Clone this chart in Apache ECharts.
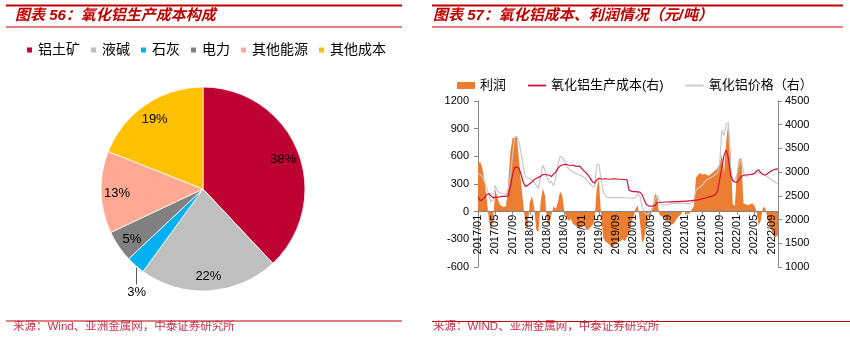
<!DOCTYPE html>
<html><head><meta charset="utf-8">
<script src="https://cdn.jsdelivr.net/npm/echarts@6/dist/echarts.min.js"></script>
<style>html,body{margin:0;padding:0;background:#fff}#c{width:850px;height:338px}</style>
</head><body><div id="c"></div>
<script>
// ---- Left chart: cost structure (pie) ----
const pieNames = ['铝土矿', '液碱', '石灰', '电力', '其他能源', '其他成本'];
const pieValues = [38, 22, 3, 5, 13, 19];
const pieColors = ['#BE0032', '#BFBFBF', '#00B0F0', '#808080', '#FFA995', '#FFC000'];

// ---- Right chart: semi-monthly series, 2017/01 .. 2022/10 ----
const startYear = 2017;
const profit = [
  520,540,470,330,150,-80,-200,-100,240,150,80,60, 50,60,300,650,800,800,820,550,300,80,-150,-180,
  100,170,50,-200,-220,100,250,180,-120,-150,-30,60, 30,100,220,180,0,-60,-100,-80,-130,-150,-170,-180,
  -160,-140,-190,-200,-170,-150,-100,250,350,-30,-280,-320, -340,-360,-380,-370,-340,-330,-320,-300,-320,-280,-250,-120,
  -60,30,70,-100,-340,-300,-150,-60,-40,60,200,150, -30,-50,-60,-80,-100,-130,-140,-120,-80,-50,-30,10,
  -10,-30,-20,20,60,370,400,420,400,410,400,390, 410,430,450,480,520,620,420,750,980,650,90,60,
  450,570,580,90,80,70,80,90,70,10,-150,-100, 40,50,-60,-150,-200,-260,-280,-250
];
const cost = [
  2480,2400,2420,2460,2530,2550,2500,2460,2470,2475,2480,2490, 2490,2495,2500,2700,2950,3100,3110,3080,2950,2780,2700,2720,
  2760,2790,2840,2870,2890,2910,2950,2950,2940,2940,2905,2960, 3000,3080,3130,3150,3160,3165,3145,3140,3150,3125,3120,3130,
  3080,3030,2990,2940,2870,2800,2770,2835,2870,2860,2855,2860, 2855,2850,2855,2860,2855,2850,2850,2845,2845,2840,2620,2600,
  2590,2590,2585,2580,2530,2420,2320,2290,2285,2290,2300,2350, 2360,2365,2365,2370,2370,2375,2375,2380,2380,2380,2385,2385,
  2390,2390,2395,2400,2405,2410,2415,2425,2440,2450,2465,2480, 2490,2500,2530,2600,2850,3100,3350,3470,3300,2950,2820,2790,
  2785,2840,2910,2935,2940,2945,2950,2960,2970,3020,3050,2990, 2950,2940,2960,3000,3030,3050,3065,3070
];
const price = [
  2977,2950,2900,2800,2680,2520,2380,2400,2720,2600,2570,2555, 2545,2535,2650,2900,3360,3740,3750,3640,3400,3100,2900,2880,
  2870,2820,2770,2720,2660,2900,3150,3050,2900,2780,2800,2715, 2880,3150,3328,3310,3250,3130,3060,3040,3010,2980,2960,2940,
  2920,2900,2860,2800,2750,2700,2690,3150,3170,2850,2600,2500, 2465,2462,2462,2462,2462,2462,2462,2462,2460,2460,2455,2450,
  2448,2470,2550,2500,2300,2150,2100,2130,2200,2260,2420,2520, 2400,2320,2305,2310,2320,2330,2335,2340,2340,2340,2345,2340,
  2340,2345,2340,2350,2420,2620,2660,2690,2730,2790,2840,2860, 2890,2920,2950,2990,3200,3890,3780,4000,4050,3100,2820,2820,
  2950,3180,3290,2980,2910,2920,2940,2950,2970,2985,2990,2975, 2950,2940,2910,2870,2835,2810,2775,2750
];
const xTickLabels = ['2017/01','2017/05','2017/09','2018/01','2018/05','2018/09','2019/01','2019/05','2019/09',
  '2020/01','2020/05','2020/09','2021/01','2021/05','2021/09','2022/01','2022/05','2022/09'];
const leftAxis = {min: -600, max: 1200, step: 300};
const rightAxis = {min: 1000, max: 4500, step: 500};
const seriesNames = ['利润', '氧化铝生产成本(右)', '氧化铝价格（右）'];

// semi-monthly category labels
const cats = [];
for (let i = 0; i < profit.length; i++) {
  const mi = Math.floor(i / 2);
  const y = startYear + Math.floor(mi / 12);
  const m = (mi % 12) + 1;
  cats.push(y + '/' + String(m).padStart(2, '0') + '/' + (i % 2 ? '16' : '01'));
}

const FONT = "'Liberation Sans','Noto Sans CJK SC',sans-serif";
const RED = '#C00000';

const pieData = pieNames.map((n, i) => ({
  name: n, value: pieValues[i], itemStyle: {color: pieColors[i]},
  label: {show: i === 2}, labelLine: {show: i === 2}
}));
const ringData = pieNames.map((n, i) => ({
  name: n, value: pieValues[i], label: {show: i !== 2}
}));

const chart = echarts.init(document.getElementById('c'), null, {renderer: 'canvas'});
chart.setOption({
  animation: false,
  textStyle: {fontFamily: FONT},
  title: [
    {text: '图表 56：氧化铝生产成本构成', left: 15, top: 8, padding: 0,
     textStyle: {fontSize: 15, fontWeight: 'bold', fontStyle: 'italic', color: RED, fontFamily: FONT}},
    {text: '图表 57：氧化铝成本、利润情况（元/吨）', left: 433, top: 8, padding: 0,
     textStyle: {fontSize: 15, fontWeight: 'bold', fontStyle: 'italic', color: RED, fontFamily: FONT}},
    {text: '来源：Wind、亚洲金属网，中泰证券研究所', left: 13, top: 321, padding: 0,
     textStyle: {fontSize: 11.5, fontWeight: 'normal', color: '#C8304A', fontFamily: FONT}},
    {text: '来源：WIND、亚洲金属网，中泰证券研究所', left: 433, top: 321, padding: 0,
     textStyle: {fontSize: 11.5, fontWeight: 'normal', color: '#C8304A', fontFamily: FONT}}
  ],
  graphic: [
    {type: 'line', shape: {x1: 6, y1: 5.5, x2: 402, y2: 5.5}, style: {stroke: RED, lineWidth: 2}},
    {type: 'line', shape: {x1: 6, y1: 27, x2: 402, y2: 27}, style: {stroke: RED, lineWidth: 1}},
    {type: 'line', shape: {x1: 432, y1: 5.5, x2: 843, y2: 5.5}, style: {stroke: RED, lineWidth: 2}},
    {type: 'line', shape: {x1: 432, y1: 27, x2: 843, y2: 27}, style: {stroke: RED, lineWidth: 1}},
    {type: 'line', shape: {x1: 6, y1: 321, x2: 402, y2: 321}, style: {stroke: RED, lineWidth: 1}},
    {type: 'line', shape: {x1: 432, y1: 321.5, x2: 850, y2: 321.5}, style: {stroke: RED, lineWidth: 1}}
  ],
  legend: [
    {data: pieNames, left: 25, top: 43, icon: 'rect', itemWidth: 7, itemHeight: 7, itemGap: 9,
     padding: 0, textStyle: {fontSize: 14, color: '#000', fontFamily: FONT}, selectedMode: false},
    {data: [
       {name: seriesNames[0], icon: 'rect'},
       {name: seriesNames[1], icon: 'path://M0,0H20V2H0Z'},
       {name: seriesNames[2], icon: 'path://M0,0H20V2H0Z'}],
     left: 457, top: 79, itemWidth: 18, itemHeight: 7, itemGap: 22, padding: 0,
     textStyle: {fontSize: 13, color: '#000', fontFamily: FONT}, selectedMode: false}
  ],
  grid: {left: 478, right: 72, top: 101, bottom: 71},
  xAxis: {
    type: 'category', data: cats, boundaryGap: false, z: 10, offset: 0,
    axisLine: {onZero: false, lineStyle: {color: '#868686', width: 1}},
    axisTick: {show: true, interval: 7, length: 3, lineStyle: {color: '#868686'}},
    axisLabel: {interval: 7, rotate: 90, margin: 3, fontSize: 11, color: '#000', fontFamily: FONT,
      formatter: v => { const t = v.slice(0, 7); return xTickLabels.indexOf(t) >= 0 ? t : ''; }},
    splitLine: {show: false}
  },
  yAxis: [
    {type: 'value', position: 'left', min: leftAxis.min, max: leftAxis.max, interval: leftAxis.step,
     axisLine: {show: true, lineStyle: {color: '#868686'}},
     axisTick: {show: true, length: 4, lineStyle: {color: '#868686'}},
     axisLabel: {margin: 9, fontSize: 11, color: '#000', fontFamily: FONT, formatter: v => String(v)},
     splitLine: {show: false}},
    {type: 'value', position: 'right', min: rightAxis.min, max: rightAxis.max, interval: rightAxis.step,
     axisLine: {show: true, lineStyle: {color: '#868686'}},
     axisTick: {show: true, length: 4, lineStyle: {color: '#868686'}},
     axisLabel: {margin: 7, fontSize: 11, color: '#000', fontFamily: FONT, formatter: v => String(v)},
     splitLine: {show: false}}
  ],
  series: [
    {type: 'pie', name: 'pie', center: [203, 189], radius: 102, startAngle: 90, clockwise: true,
     silent: true, avoidLabelOverlap: false,
     itemStyle: {borderColor: '#fff', borderWidth: 0.8},
     label: {show: false, position: 'outside', formatter: '{c}%', fontSize: 13, color: '#000', fontFamily: FONT},
     labelLine: {show: false, length: 14, length2: 0, lineStyle: {color: '#595959', width: 1}},
     labelLayout: function (p) {
       if (!p.labelLinePoints) return {};
       const s = p.labelLinePoints[0];
       return {x: s[0] + 1, y: s[1] + 27, align: 'center', verticalAlign: 'middle',
               labelLinePoints: [[s[0] + 1, s[1] + 2], [s[0] + 1, s[1] + 19], [s[0] + 1, s[1] + 19]]};
     },
     data: pieData},
    {type: 'pie', name: 'pieLabels', center: [203, 191], radius: [64, 102], startAngle: 90, clockwise: true,
     silent: true, legendHoverLink: false, avoidLabelOverlap: false,
     itemStyle: {color: 'rgba(0,0,0,0)', borderWidth: 0},
     label: {show: true, position: 'inside', formatter: '{c}%', fontSize: 13, color: '#000', fontFamily: FONT},
     labelLine: {show: false},
     data: ringData},
    {type: 'line', name: seriesNames[0], xAxisIndex: 0, yAxisIndex: 0, data: profit,
     symbol: 'none', color: '#ED7D31', lineStyle: {width: 0}, areaStyle: {color: '#ED7D31', opacity: 1}, z: 2},
    {type: 'line', name: seriesNames[1], xAxisIndex: 0, yAxisIndex: 1, data: cost,
     symbol: 'none', color: '#D0103A', lineStyle: {color: '#D0103A', width: 1.2}, z: 4},
    {type: 'line', name: seriesNames[2], xAxisIndex: 0, yAxisIndex: 1, data: price,
     symbol: 'none', color: '#C8C8C8', lineStyle: {color: '#C8C8C8', width: 1.2}, z: 3}
  ]
});
// place the category axis on the zero of the left value axis, using the library's own scale
const zeroY = chart.convertToPixel({yAxisIndex: 0}, 0);
const bottomY = chart.convertToPixel({yAxisIndex: 0}, leftAxis.min);
chart.setOption({xAxis: {offset: zeroY - bottomY}});
</script></body></html>
